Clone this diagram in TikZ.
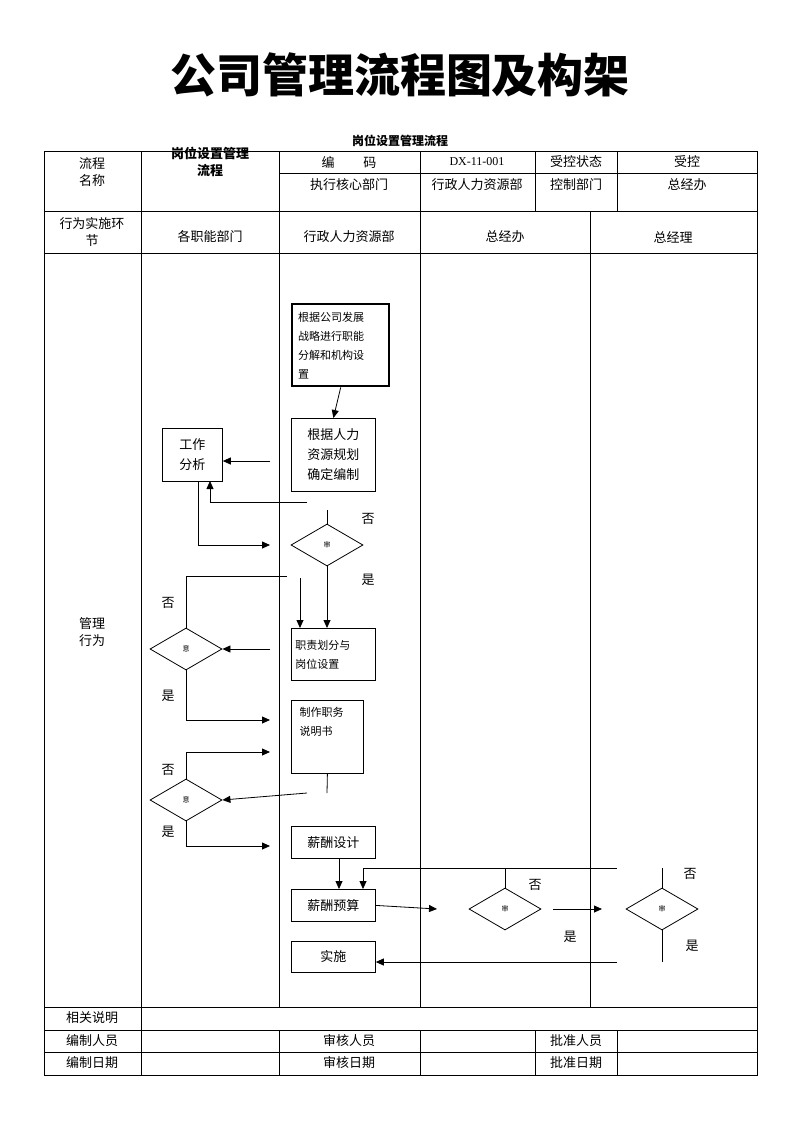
\documentclass[tikz,border=0pt]{standalone}
\usepackage{fontspec}
\setmainfont{Noto Sans CJK SC}
\newfontfamily\serifnum{Liberation Serif}
\usetikzlibrary{shapes.geometric,arrows.meta}

\tikzstyle{cell} = [font=\fontsize{13}{17}\selectfont,align=center]
\tikzstyle{proc} = [draw,font=\fontsize{13}{20}\selectfont,align=center,inner sep=2pt]
\tikzstyle{decision} = [draw,diamond,minimum width=72pt,minimum height=42pt,inner sep=0pt,font=\fontsize{7}{8}\selectfont]
\tikzstyle{flow} = [draw,-{Triangle[length=8pt,width=7pt]}]
\tikzstyle{answer} = [font=\fontsize{13}{15}\selectfont]

\begin{document}
\begin{tikzpicture}[x=1pt,y=-1pt,line width=0.8pt]
\useasboundingbox (0,0) rectangle (800,1128);
% titles
\node[font=\fontsize{46}{50}\selectfont\bfseries] (title) at (400,75) {公司管理流程图及构架};
\node[font=\fontsize{12}{14}\selectfont\bfseries] (sub) at (400,141) {岗位设置管理流程};
% table frame
\draw[line width=0.6pt] (44,151) rectangle (757,1075);
\foreach \y in {211,253,1007,1030,1052} \draw[line width=0.6pt] (44,\y) -- (757,\y);
\draw[line width=0.6pt] (279,173) -- (757,173);
\foreach \x in {141,279,420} \draw[line width=0.6pt] (\x,151) -- (\x,1007);
\draw[line width=0.6pt] (590,211) -- (590,1007);
\foreach \x in {535,617} \draw[line width=0.6pt] (\x,151) -- (\x,211);
\draw[line width=0.6pt] (141,1007) -- (141,1075);
\foreach \x in {279,420,535,617} \draw[line width=0.6pt] (\x,1030) -- (\x,1075);
% header cells
\foreach \pos/\txt in {{(92,172)/流程\\名称}, {(210,162)/{\bfseries 岗位设置管理}\\{\bfseries 流程}},
    {(349,162)/编\hspace{2.2em}码}, {(576,162)/受控状态}, {(687,162)/受控},
    {(349,185)/执行核心部门}, {(477,185)/行政人力资源部}, {(576,185)/控制部门}, {(687,185)/总经办},
    {(92,232)/行为实施环\\节}, {(210,237)/各职能部门}, {(349,237)/行政人力资源部},
    {(505,237)/总经办}, {(673,237)/总经理}, {(92,632)/管理\\行为},
    {(92,1018)/相关说明}, {(92,1041)/编制人员}, {(349,1041)/审核人员}, {(576,1041)/批准人员},
    {(92,1063)/编制日期}, {(349,1063)/审核日期}, {(576,1063)/批准日期}}{
  \node[cell] at \pos {\txt};
}
\node[cell,font=\fontsize{12}{14}\serifnum] (code) at (477,162) {DX-11-001};
% steps
\node[proc,line width=2.4pt,minimum width=97pt,minimum height=82pt,align=left,font=\fontsize{11}{19}\selectfont,anchor=north west,text width=85pt] (plan) at (291,303) {根据公司发展\\战略进行职能\\分解和机构设\\置};
\node[proc,minimum width=84pt,minimum height=73pt,anchor=north west] (staff) at (291,418) {根据人力\\资源规划\\确定编制};
\node[proc,minimum width=60pt,minimum height=53pt,anchor=north west] (job) at (162,428) {工作\\分析};
\node[decision] (chk1) at (327,545) {审};
\node[proc,minimum width=84pt,minimum height=52pt,anchor=north west,align=left,font=\fontsize{11}{19}\selectfont,text width=76pt] (duty) at (291,628) {职责划分与\\岗位设置};
\node[decision] (chk2) at (186,649) {意};
\node[draw,minimum width=72pt,minimum height=73pt,anchor=north west] (desc) at (291,700) {};
\node[font=\fontsize{11}{19}\selectfont,align=left,anchor=north west] (desctxt) at (296,704) {制作职务\\说明书};
\node[decision] (chk3) at (186,800) {意};
\node[proc,minimum width=84pt,minimum height=32pt,anchor=north west] (pay) at (291,826) {薪酬设计};
\node[proc,minimum width=84pt,minimum height=32pt,anchor=north west] (budget) at (291,889) {薪酬预算};
\node[proc,minimum width=84pt,minimum height=31pt,anchor=north west] (run) at (291,941) {实施};
\node[decision] (chk4) at (505,909) {审};
\node[decision] (chk5) at (662,909) {审};
% free ends
\coordinate (c1) at (270,461);
\coordinate (c2) at (307,502);
\coordinate (c3) at (270,545);
\coordinate (c4) at (287,576);
\coordinate (c5) at (270,649);
\coordinate (c6) at (270,720);
\coordinate (c7) at (307,793);
\coordinate (c8) at (270,752);
\coordinate (c9) at (270,846);
\coordinate (c10) at (617,868);
\coordinate (c11) at (617,962);
% connectors
\path[flow] (plan.south) -- (staff.north);
\path[flow] (c1) -- (job.east |- c1);
\path[flow] (c2) -| (210,481);
\path[flow] (198,481) |- (c3);
\draw (327,510) -- (chk1.north);
\path[flow] (chk1.south) -- (duty.north -| chk1);
\path[flow] (300,578) -- (300,628);
\draw (c4) -| (chk2.north);
\path[flow] (c5) -- (chk2.east);
\path[flow] (chk2.south) |- (c6);
\draw (desc.south) -- (327,793);
\path[flow] (c7) -- (chk3.east);
\path[flow] (chk3.north) |- (c8);
\path[flow] (chk3.south) |- (c9);
\path[flow] (339,858) -- (339,889);
\path[flow] (c10) -| (363,889);
\draw (chk4.north) -- (505,868);
\path[flow] (budget.east) -- (437,909);
\path[flow] (553,909) -- (602,909);
\draw (chk5.north) -- (662,868);
\draw (chk5.south) -- (662,962);
\path[flow] (c11) -- (run.east |- c11);
% labels
\foreach \pos/\txt in {{(368,519)/否}, {(368,580)/是}, {(168,603)/否}, {(168,696)/是},
    {(168,770)/否}, {(168,832)/是}, {(535,885)/否}, {(570,937)/是}, {(690,874)/否}, {(692,946)/是}}{
  \node[answer] at \pos {\txt};
}
\end{tikzpicture}
\end{document}
